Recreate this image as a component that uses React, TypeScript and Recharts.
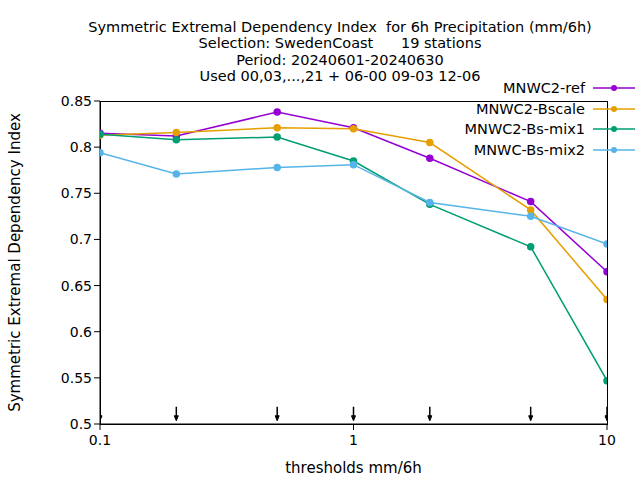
import { LineChart, Line, XAxis, YAxis, Scatter } from "recharts";

const thresholds = [0.1, 0.2, 0.5, 1, 2, 5, 10];
const refValues = [0.815, 0.812, 0.838, 0.821, 0.788, 0.741, 0.665];
const bscaleValues = [0.813, 0.816, 0.821, 0.82, 0.805, 0.732, 0.635];
const mix1Values = [0.814, 0.808, 0.811, 0.785, 0.738, 0.692, 0.547];
const mix2Values = [0.794, 0.771, 0.778, 0.781, 0.74, 0.725, 0.695];
const yTicks = [0.5, 0.55, 0.6, 0.65, 0.7, 0.75, 0.8, 0.85];
const xTicks = [0.1, 1, 10];
const titleLines = [
  "Symmetric Extremal Dependency Index  for 6h Precipitation (mm/6h)",
  "Selection: SwedenCoast      19 stations",
  "Period: 20240601-20240630",
  "Used 00,03,...,21 + 06-00 09-03 12-06",
];

const series = [
  { key: "ref", name: "MNWC2-ref", color: "#9400d3", values: refValues },
  { key: "bscale", name: "MNWC2-Bscale", color: "#e69f00", values: bscaleValues },
  { key: "mix1", name: "MNWC2-Bs-mix1", color: "#009e73", values: mix1Values },
  { key: "mix2", name: "MNWC-Bs-mix2", color: "#56b4e9", values: mix2Values },
];

const data = thresholds.map((t, i) => ({
  t,
  ref: refValues[i],
  bscale: bscaleValues[i],
  mix1: mix1Values[i],
  mix2: mix2Values[i],
  marker: 0.51,
}));

const fmt = (v: number) => String(Number(v.toFixed(2)));
const font = "'DejaVu Sans', sans-serif";

const Arrow = (props: any) => {
  const { cx, cy } = props;
  return (
    <g stroke="#000" fill="#000">
      <line x1={cx} y1={cy - 8} x2={cx} y2={cy + 4} strokeWidth={1.5} />
      <path d={`M${cx - 2},${cy + 1} L${cx + 2},${cy + 1} L${cx},${cy + 6} Z`} />
    </g>
  );
};

export default function App() {
  return (
    <div style={{ position: "absolute", left: 0, top: 0, width: 640, height: 480, background: "#fff", fontFamily: font }}>
      <div style={{ position: "absolute", top: 19, left: 0, width: 680, textAlign: "center", fontSize: 14.5, lineHeight: "16.3px" }}>
        {titleLines.map((l) => (
          <div key={l} style={{ whiteSpace: "pre" }}>{l}</div>
        ))}
      </div>
      <div style={{ position: "absolute", left: 100, top: 101, width: 506, height: 322, border: "1px solid #000" }} />
      <LineChart width={640} height={480} data={data} margin={{ top: 101, right: 33, left: 40, bottom: 0 }} style={{ fontFamily: font, position: "absolute", left: 0, top: 0 }}>
        <XAxis
          dataKey="t"
          type="number"
          scale="log"
          domain={[0.1, 10]}
          ticks={xTicks}
          allowDataOverflow
          height={56}
          tick={{ fill: "#000", fontSize: 14, dy: 3 }}
          tickFormatter={fmt}
          stroke="#000"
          label={{ value: "thresholds mm/6h", position: "insideBottom", offset: 7, fill: "#000", fontSize: 15 }}
        />
        <YAxis
          domain={[0.5, 0.85]}
          ticks={yTicks}
          width={60}
          tick={{ fill: "#000", fontSize: 14 }}
          tickFormatter={fmt}
          stroke="#000"
          allowDataOverflow
          label={{ value: "Symmetric Extremal Dependency Index", angle: -90, position: "insideLeft", offset: -25, fill: "#000", fontSize: 15, style: { textAnchor: "middle" } }}
        />
        <Scatter dataKey="marker" shape={<Arrow />} isAnimationActive={false} />
        {series.map((s) => (
          <Line
            key={s.key}
            dataKey={s.key}
            name={s.name}
            stroke={s.color}
            strokeWidth={1.5}
            type="linear"
            dot={{ r: 3, fill: s.color, stroke: s.color }}
            isAnimationActive={false}
          />
        ))}
      </LineChart>
      <div style={{ position: "absolute", top: 78, left: 280, width: 360, fontSize: 14.5 }}>
        {series.map((s) => (
          <div key={s.key} style={{ display: "flex", alignItems: "center", justifyContent: "flex-end", height: 20.5 }}>
            <span>{s.name}</span>
            <svg width={50} height={10} style={{ marginLeft: 5 }}>
              <line x1={3} y1={5} x2={45} y2={5} stroke={s.color} strokeWidth={1.5} />
              <circle cx={24} cy={5} r={3} fill={s.color} />
            </svg>
          </div>
        ))}
      </div>
    </div>
  );
}
